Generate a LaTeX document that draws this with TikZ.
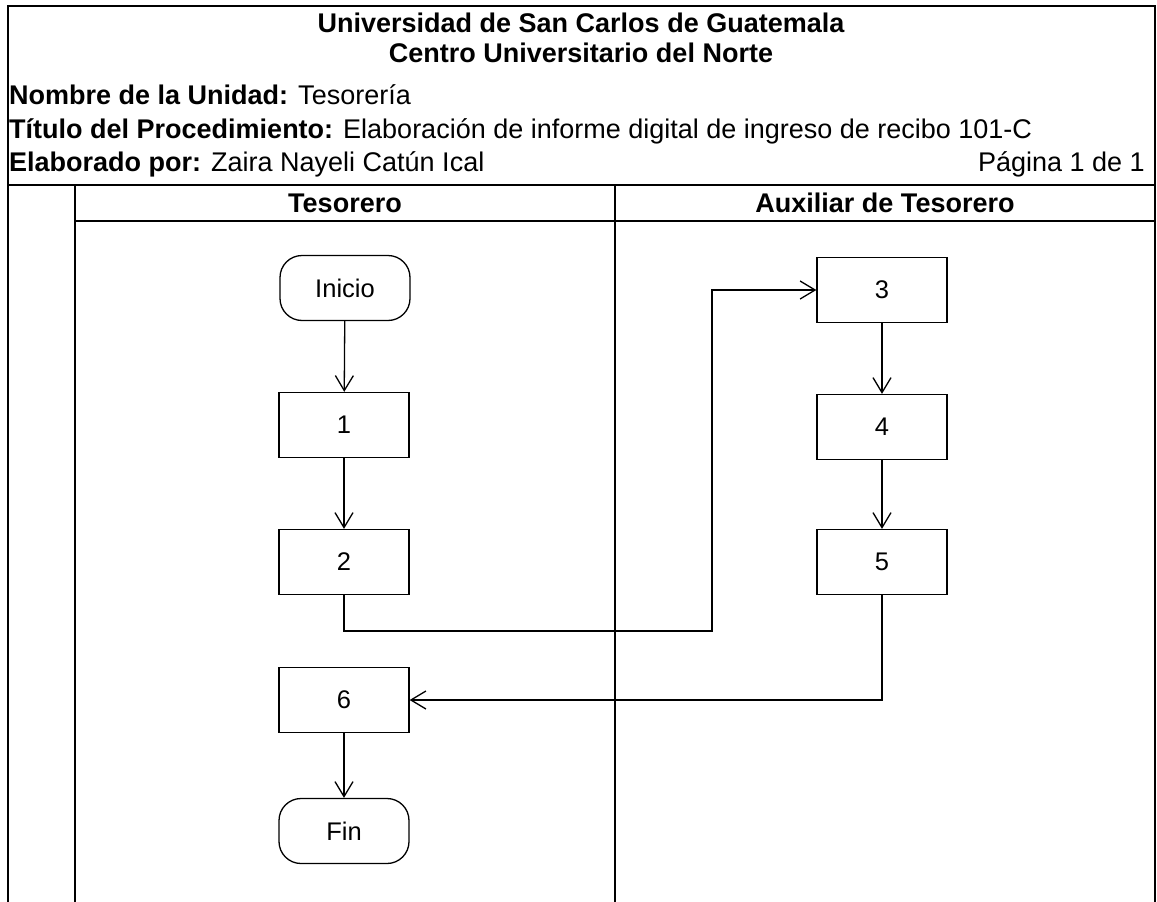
\documentclass[tikz,border=0pt]{standalone}
\usepackage{fontspec}
\setmainfont{Liberation Sans}
\usetikzlibrary{arrows.meta}
\begin{document}
\begin{tikzpicture}[x=1pt,y=-1pt,
  frame/.style={line width=2.4pt,line cap=rect},
  txt/.style={inner sep=0pt,font=\fontsize{27}{31}\selectfont},
  hd/.style={txt,font=\fontsize{27}{31}\selectfont\bfseries},
  proc/.style={draw,line width=1.3pt,minimum width=130pt,minimum height=65pt,
    inner sep=0pt,font=\fontsize{25.5}{29}\selectfont},
  term/.style={proc,rounded corners=22pt},
  conn/.style={line width=1.3pt,-{Straight Barb[length=15pt,width=18pt]}}]
\useasboundingbox (0,0) rectangle (1157,902);

% frame and swimlanes
\draw[frame] (8,902) -- (8,6) -- (1155,6) -- (1155,902);
\draw[frame] (8,185) -- (1155,185);
\draw[frame] (75,185) -- (75,902);
\draw[frame] (615,185) -- (615,902);
\draw[frame] (75,221) -- (1155,221);

% header texts
\node[hd,anchor=base] (uni) at (581,32) {Universidad de San Carlos de Guatemala};
\node[hd,anchor=base] (cun) at (581,62) {Centro Universitario del Norte};
\node[txt,anchor=base west] (uni2) at (9,104) {\textbf{Nombre de la Unidad:} Tesorería};
\node[txt,anchor=base west] (tit) at (9,138) {\textbf{Título del Procedimiento:} Elaboración de informe digital de ingreso de recibo 101-C};
\node[txt,anchor=base west] (ela) at (9,171) {\textbf{Elaborado por:} Zaira Nayeli Catún Ical};
\node[txt,anchor=base east] (pag) at (1145,171) {Página 1 de 1};
\node[hd,anchor=base] (l1) at (345,212) {Tesorero};
\node[hd,anchor=base] (l2) at (885,212) {Auxiliar de Tesorero};

% Tesorero lane
\node[term] (ini) at (345,288) {Inicio};
\node[proc] (b1) at (344,425) {1};
\node[proc] (b2) at (344,562) {2};
\node[proc] (b6) at (344,700) {6};
\node[term] (fin) at (344,831) {Fin};

% Auxiliar lane
\node[proc] (b3) at (882,290) {3};
\node[proc] (b4) at (882,427) {4};
\node[proc] (b5) at (882,562) {5};

\coordinate (j1) at (712,631);

\draw[conn] (ini) -- (b1);
\draw[conn] (b1) -- (b2);
\draw[conn] (b2.south) |- (j1) |- (b3.west);
\draw[conn] (b3) -- (b4);
\draw[conn] (b4) -- (b5);
\draw[conn] (b5.south) |- (b6.east);
\draw[conn] (b6) -- (fin);
\end{tikzpicture}
\end{document}
